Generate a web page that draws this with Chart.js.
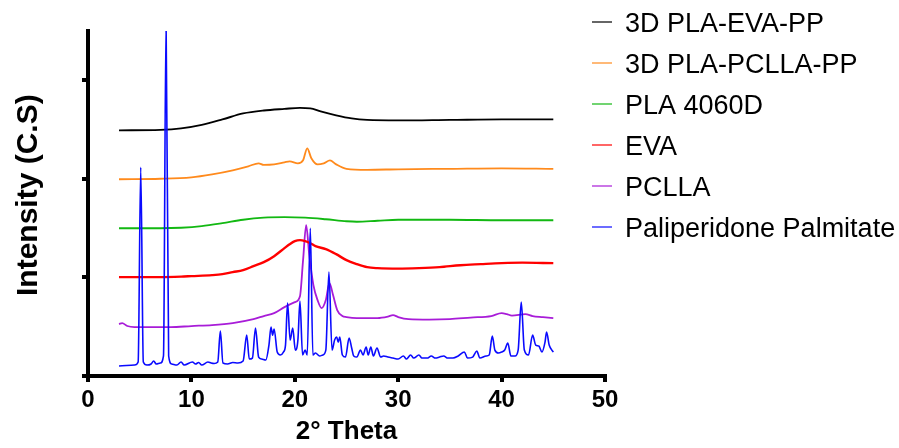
<!DOCTYPE html>
<html>
<head>
<meta charset="utf-8">
<script src="https://cdn.jsdelivr.net/npm/chart.js@4.4.1/dist/chart.umd.min.js"></script>
<style>
  html, body { margin: 0; padding: 0; background: #fff; }
  #wrap { width: 899px; height: 448px; }
</style>
</head>
<body>
<div id="wrap"><canvas id="xrd_chart" width="899" height="448"></canvas></div>
<script>
// XRD patterns, 2-theta (deg) vs intensity (counts, stacked offsets as plotted)
var seriesLabels = ['3D PLA-EVA-PP', '3D PLA-PCLLA-PP', 'PLA 4060D', 'EVA', 'PCLLA', 'Paliperidone Palmitate'];
var seriesColors = ['#000000', '#FF8A1C', '#12B812', '#FF0000', '#A81CD8', '#0A0AFF'];
var xTicks = [0, 10, 20, 30, 40, 50];
var yTicks = [0, 1000, 2000, 3000];

var pla_eva_theta = [3, 7, 9, 11, 13, 15, 17, 19, 20.5, 21.5, 22.5, 24, 25.5, 27, 30, 35, 40, 45];
var pla_eva_counts = [2492, 2497, 2512, 2548, 2603, 2664, 2694, 2710, 2720, 2715, 2684, 2644, 2613, 2598, 2593, 2598, 2603, 2603];

var pla_pclla_theta = [3, 7, 10, 12, 14, 15.5, 16.5, 17, 18, 19, 19.5, 20.3, 20.8, 21.2, 21.6, 22.2, 22.8, 23.4, 24, 25, 27, 30, 35, 40, 45];
var pla_pclla_counts = [1996, 2001, 2016, 2046, 2087, 2127, 2158, 2142, 2147, 2168, 2178, 2158, 2188, 2310, 2209, 2147, 2158, 2188, 2147, 2102, 2092, 2097, 2102, 2107, 2102];

var pla_theta = [3, 7, 9, 11, 13, 15, 17, 19, 21, 23, 25, 26, 28, 30, 35, 40, 45];
var pla_counts = [1499, 1499, 1504, 1520, 1550, 1585, 1606, 1611, 1606, 1590, 1570, 1565, 1575, 1585, 1585, 1580, 1580];

var eva_theta = [3, 7, 9, 10, 12, 13, 14, 15, 16, 17, 18, 19, 19.5, 20, 20.5, 21, 21.5, 22, 23, 24, 25, 26, 27, 28, 30, 32, 34, 36, 38, 40, 42, 45];
var eva_counts = [1003, 1003, 1008, 1013, 1023, 1033, 1054, 1074, 1114, 1155, 1216, 1297, 1337, 1368, 1378, 1368, 1347, 1317, 1287, 1236, 1175, 1135, 1104, 1094, 1089, 1094, 1104, 1124, 1135, 1145, 1150, 1145];

var pclla_theta = [3, 3.3, 3.8, 4.5, 6, 8, 10, 12, 14, 16, 17, 18, 19, 20, 20.5, 20.8, 21.1, 21.4, 21.8, 22.2, 22.6, 23, 23.35, 23.7, 24.1, 24.6, 25, 26, 28, 29, 29.5, 30, 31, 33, 35, 37, 39, 40, 40.5, 41, 42.3, 43, 44, 45];
var pclla_counts = [527, 537, 507, 496, 496, 496, 507, 517, 537, 577, 608, 638, 699, 750, 810, 1175, 1530, 1226, 922, 770, 689, 770, 942, 821, 669, 608, 598, 588, 588, 603, 618, 598, 577, 572, 577, 593, 608, 638, 628, 613, 628, 608, 598, 588];

var pp_theta = [3, 4.5, 4.85, 5.1, 5.35, 5.7, 6.1, 6.35, 6.6, 7, 7.3, 7.55, 7.8, 8.1, 8.6, 9, 9.3, 10.1, 10.4, 10.7, 11, 11.6, 11.9, 12.2, 12.55, 12.8, 13.05, 13.5, 14, 14.5,
    15, 15.35, 15.6, 15.9, 16.2, 16.5, 16.8, 17.2, 17.5, 17.7, 17.85, 18, 18.3, 18.6, 18.9, 19.1, 19.3, 19.55, 19.8, 20.05, 20.3, 20.5, 20.75, 21, 21.2, 21.5, 21.75, 22, 22.4, 22.7,
    23, 23.3, 23.6, 23.85, 24.05, 24.2, 24.35, 24.6, 24.9, 25.25, 25.5, 25.7, 26, 26.35, 26.6, 26.9, 27.1, 27.35, 27.6, 27.95, 28.3, 28.6, 29, 29.5, 30, 30.5, 30.8, 31.2, 31.5, 32,
    32.3, 32.8, 33.2, 33.6, 34, 34.4, 34.8, 35.3, 35.8, 36.4, 36.7, 37.2, 37.6, 37.9, 38.5, 38.8, 39.1, 39.35, 39.7, 40, 40.3, 40.6, 40.9, 41.3, 41.6, 41.9, 42.2, 42.6, 43, 43.3,
    43.6, 43.9, 44.2, 44.35, 44.6, 45];
var pp_counts = [101, 111, 142, 2117, 142, 111, 122, 152, 122, 132, 203, 3606, 203, 122, 111, 142, 111, 142, 122, 137, 111, 142, 132, 127, 142, 456, 132, 122, 137, 132,
    152, 415, 172, 182, 486, 192, 172, 162, 314, 496, 415, 476, 243, 213, 243, 314, 739, 365, 486, 263, 365, 760, 213, 263, 213, 1499, 213, 233, 203, 213,
    263, 1054, 263, 365, 395, 344, 395, 213, 192, 385, 284, 203, 192, 263, 213, 294, 213, 294, 203, 284, 192, 203, 192, 182, 172, 203, 172, 213, 182, 213,
    182, 182, 203, 182, 192, 203, 182, 182, 203, 243, 182, 192, 253, 182, 203, 213, 405, 263, 233, 243, 263, 334, 203, 203, 263, 750, 263, 213, 415, 314,
    304, 243, 344, 446, 314, 243];

var thetaSets = [pla_eva_theta, pla_pclla_theta, pla_theta, eva_theta, pclla_theta, pp_theta];
var countSets = [pla_eva_counts, pla_pclla_counts, pla_counts, eva_counts, pclla_counts, pp_counts];
var lineWidths = [1.9, 1.8, 1.8, 2.4, 1.8, 1.6];

function toPoints(theta, counts) {
    return theta.map(function (t, i) {
        return { x: t, y: counts[i] };
    });
}

var datasets = seriesLabels.map(function (label, i) {
    return {
        label: label,
        data: toPoints(thetaSets[i], countSets[i]),
        borderColor: seriesColors[i],
        backgroundColor: seriesColors[i],
        borderWidth: lineWidths[i],
        pointRadius: 0,
        fill: false,
        cubicInterpolationMode: 'monotone',
        order: i === 5 ? 0 : 1,   // blue pattern on top
    };
});

// legend drawn at the right side, in dataset order
var sideLegend = {
    id: 'sideLegend',
    afterDraw: function (chart) {
        var ctx = chart.ctx;
        var x0 = chart.chartArea.right - 13;
        ctx.save();
        ctx.font = '27px "Liberation Sans", Arial, sans-serif';
        ctx.textBaseline = 'alphabetic';
        ctx.textAlign = 'left';
        chart.data.datasets.forEach(function (ds, i) {
            var y = 22 + i * 41;
            ctx.strokeStyle = ds.borderColor;
            ctx.lineWidth = 1.2;
            ctx.beginPath();
            ctx.moveTo(x0, y);
            ctx.lineTo(x0 + 20, y);
            ctx.stroke();
            ctx.fillStyle = '#000';
            ctx.fillText(ds.label, x0 + 33, y + 10);
        });
        ctx.restore();
    }
};

var fontFamily = '"Liberation Sans", Arial, sans-serif';

new Chart(document.getElementById('xrd_chart'), {
    type: 'line',
    data: { datasets: datasets },
    plugins: [sideLegend],
    options: {
        responsive: false,
        animation: false,
        devicePixelRatio: 1,
        layout: { padding: { left: 5, top: 31, right: 294, bottom: 1 } },
        plugins: {
            legend: { display: false },
            tooltip: { enabled: false }
        },
        scales: {
            x: {
                type: 'linear',
                min: xTicks[0],
                max: xTicks[xTicks.length - 1],
                afterBuildTicks: function (scale) {
                    scale.ticks = xTicks.map(function (v) { return { value: v }; });
                },
                ticks: {
                    color: '#000',
                    padding: 4,
                    maxRotation: 0,
                    font: { family: fontFamily, size: 24, weight: 'bold' }
                },
                grid: { drawOnChartArea: false, drawTicks: true, tickLength: 6, color: '#000', lineWidth: 4 },
                border: { display: true, color: '#000', width: 4 },
                title: {
                    display: true,
                    text: '2° Theta',
                    color: '#000',
                    padding: { top: 0, bottom: 0 },
                    font: { family: fontFamily, size: 26, weight: 'bold' }
                },
                afterFit: function (scale) {
                    scale.height = 71;
                }
            },
            y: {
                type: 'linear',
                min: 0,
                max: 3500,
                afterBuildTicks: function (scale) {
                    scale.ticks = yTicks.map(function (v) { return { value: v }; });
                },
                ticks: { display: false },
                grid: { drawOnChartArea: false, drawTicks: true, tickLength: 6, color: '#000', lineWidth: 4 },
                border: { display: true, color: '#000', width: 4 },
                title: {
                    display: true,
                    text: '  Intensity (C.S)',
                    color: '#000',
                    padding: { top: 6, bottom: 0 },
                    font: { family: fontFamily, size: 30, weight: 'bold' }
                },
                afterFit: function (scale) {
                    scale.width = 83;
                }
            }
        }
    }
});
</script>
</body>
</html>
